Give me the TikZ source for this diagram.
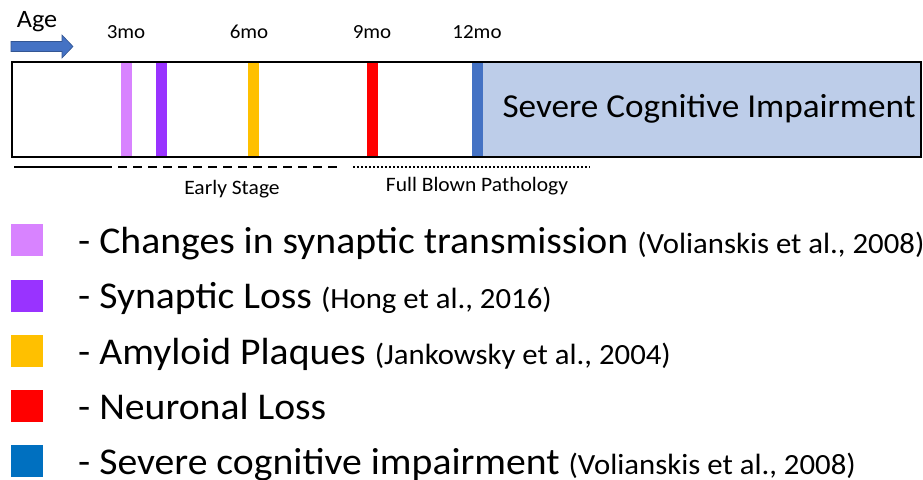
\documentclass[tikz,border=0pt]{standalone}
\usepackage{fontspec}
\setmainfont[FakeStretch=1.05]{Carlito}
\definecolor{lpurple}{HTML}{D883FF}
\definecolor{vpurple}{HTML}{9933FF}
\definecolor{amber}{HTML}{FFC000}
\definecolor{nred}{HTML}{FF0000}
\definecolor{sblue}{HTML}{4472C4}
\definecolor{lblue}{HTML}{BDCDE9}
\definecolor{legblue}{HTML}{0070C0}
\begin{document}
\begin{tikzpicture}[x=1pt,y=-1pt,
  tick/.style={font=\fontsize{20}{20}\selectfont, anchor=center, inner sep=0pt},
  bar/.style={minimum width=11.5pt, minimum height=93pt, inner sep=0pt, draw=none},
  legsq/.style={minimum size=32pt, inner sep=0pt, draw=none},
  legtext/.style={anchor=base west, inner sep=0pt, font=\fontsize{37.8}{37.8}\selectfont},
  stage/.style={font=\fontsize{20.5}{20.5}\selectfont, anchor=center, inner sep=0pt}]
\newcommand{\reftext}[1]{{\fontsize{29.3}{29.3}\selectfont #1}}
\useasboundingbox (0,0) rectangle (923,479);
% age arrow
\draw[fill=sblue, draw=sblue!75!black, line width=0.6pt]
  (11,41.5) -- (62,41.5) -- (62,35) -- (73,46.5) -- (62,58) -- (62,51.5) -- (11,51.5) -- cycle;
\node[font=\fontsize{25}{25}\selectfont, anchor=center, inner sep=0pt] (age) at (37,22) {Age};
% tick labels
\node[tick] (t3) at (126,32) {3mo};
\node[tick] (t6) at (249,32) {6mo};
\node[tick] (t9) at (372,32) {9mo};
\node[tick] (t12) at (477,32) {12mo};
% timeline box
\fill[lblue] (483,62) rectangle (921,156.5);
\node[bar, fill=lpurple] (b1) at (126.7,109.3) {};
\node[bar, fill=vpurple] (b2) at (161.7,109.3) {};
\node[bar, fill=amber] (b3) at (253.7,109.3) {};
\node[bar, fill=nred] (b4) at (372.5,109.3) {};
\node[bar, fill=sblue] (b5) at (477.5,109.3) {};
\draw[line width=2pt] (12,62) rectangle (921,156.5);
\node[font=\fontsize{33.5}{33.5}\selectfont, anchor=center, inner sep=0pt] (sci) at (709,109) {Severe Cognitive Impairment};
% stage lines
\coordinate (s0) at (14,167);
\coordinate (s1) at (103,167);
\coordinate (s2) at (342,167);
\coordinate (s3) at (353,167);
\coordinate (s4) at (590,167);
\draw[line width=1.6pt] (s0) -- (s1);
\draw[line width=1.6pt, dash pattern=on 9pt off 6pt] (s1) -- (s2);
\draw[line width=1.6pt, dash pattern=on 2pt off 2pt] (s3) -- (s4);
\node[stage] (early) at (232,189) {Early Stage};
\node[stage] (full) at (477,186) {Full Blown Pathology};
% legend
\node[legsq, fill=lpurple] (l1) at (27,240) {};
\node[legsq, fill=vpurple] (l2) at (27,296) {};
\node[legsq, fill=amber] (l3) at (27,350.5) {};
\node[legsq, fill=nred] (l4) at (27,405.5) {};
\node[legsq, fill=legblue] (l5) at (27,461) {};
\node[legtext] (lt1) at (78,253) {- Changes in synaptic transmission \reftext{(Volianskis et al., 2008)}};
\node[legtext] (lt2) at (78,308.5) {- Synaptic Loss \reftext{(Hong et al., 2016)}};
\node[legtext] (lt3) at (78,364) {- Amyloid Plaques \reftext{(Jankowsky et al., 2004)}};
\node[legtext] (lt4) at (78,419.5) {- Neuronal Loss};
\node[legtext] (lt5) at (78,474) {- Severe cognitive impairment \reftext{(Volianskis et al., 2008)}};
\end{tikzpicture}
\end{document}
